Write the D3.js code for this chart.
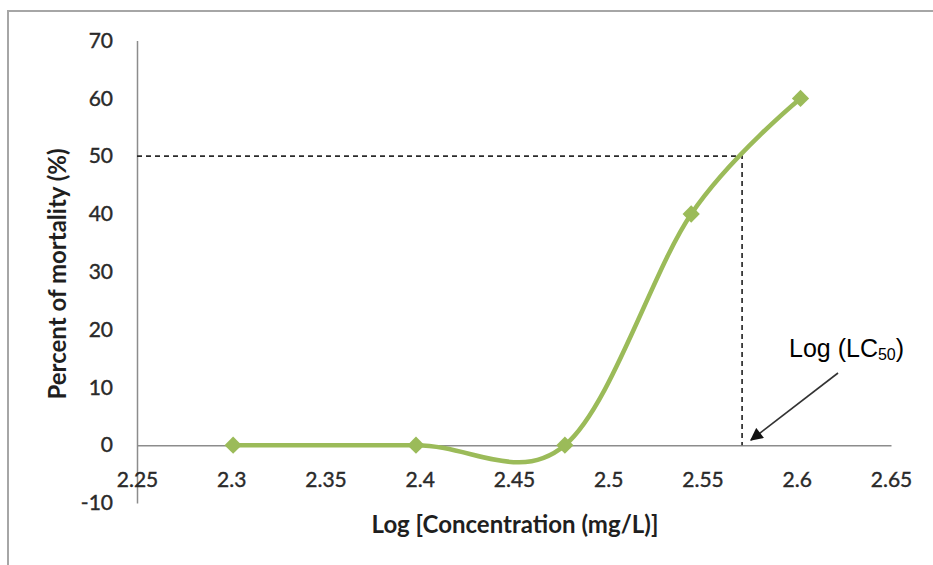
<!DOCTYPE html>
<html><head><meta charset="utf-8">
<script src="https://cdn.jsdelivr.net/npm/d3@7"></script>
<style>body{margin:0;background:#fff}svg{display:block}</style>
</head><body>
<svg id="c" width="933" height="565"></svg>
<script>
const xValues = [2.301, 2.398, 2.477, 2.544, 2.602];
const mortality = [0, 0, 0, 40, 60];
const xTicks = [2.25, 2.3, 2.35, 2.4, 2.45, 2.5, 2.55, 2.6, 2.65];
const yTicks = [-10, 0, 10, 20, 30, 40, 50, 60, 70];
const logLC50 = 2.571;
const lcLevel = 50;

const svg = d3.select("#c");
const x = d3.scaleLinear().domain([2.25, 2.65]).range([137, 891]);
const y = d3.scaleLinear().domain([-10, 70]).range([503, 40.6]);

// outer frame
svg.append("rect").attr("x", 8).attr("y", 11).attr("width", 960).attr("height", 600)
  .attr("fill", "none").attr("stroke", "#a6a6a6").attr("stroke-width", 2);

const font = "Lato, 'Open Sans', sans-serif";

// y axis
const ya = svg.append("g").attr("transform", `translate(${x(2.25)},0)`)
  .call(d3.axisLeft(y).tickValues(yTicks).tickSize(0).tickPadding(24).tickFormat(d => String(d)));
ya.select(".domain").attr("stroke", "#8c8c8c").attr("stroke-width", 1.5);
ya.selectAll("text").attr("font-family", font).attr("font-size", 21).attr("fill", "#2a2a2a")
  .attr("stroke", "#2a2a2a").attr("stroke-width", 0.4);

// x axis at y=0
const xa = svg.append("g").attr("transform", `translate(0,${y(0)})`)
  .call(d3.axisBottom(x).tickValues(xTicks).tickSize(0).tickPadding(27).tickFormat(d => String(d)));
xa.select(".domain").attr("stroke", "#8c8c8c").attr("stroke-width", 1.5);
xa.selectAll("text").attr("font-family", font).attr("font-size", 21).attr("fill", "#2a2a2a")
  .attr("stroke", "#2a2a2a").attr("stroke-width", 0.4);

// axis titles
svg.append("text").attr("x", 515).attr("y", 533).attr("text-anchor", "middle")
  .attr("font-family", font).attr("font-weight", "bold").attr("font-size", 24).attr("fill", "#1f1f1f")
  .text("Log [Concentration (mg/L)]");
svg.append("text").attr("transform", "translate(66,274) rotate(-90)").attr("text-anchor", "middle")
  .attr("font-family", font).attr("font-weight", "bold").attr("font-size", 24).attr("fill", "#1f1f1f")
  .text("Percent of mortality (%)");

// dashed LC50 guides
svg.append("path")
  .attr("d", `M${x(2.25)},${y(lcLevel)}H${x(logLC50)}V${y(0)}`)
  .attr("fill", "none").attr("stroke", "#2b2b2b").attr("stroke-width", 1.7).attr("stroke-dasharray", "5,4");

// smooth line
const pts = xValues.map((v, i) => [x(v), y(mortality[i])]);
svg.append("path").datum(pts)
  .attr("d", d3.line().curve(d3.curveCardinal.tension(0)))
  .attr("fill", "none").attr("stroke", "#9bbb59").attr("stroke-width", 4.5);

// markers
svg.selectAll(".m").data(pts).enter().append("path")
  .attr("transform", d => `translate(${d[0]},${d[1]})`)
  .attr("d", d3.symbol().type(d3.symbolDiamond2).size(190))
  .attr("fill", "#9bbb59");

// annotation
const defs = svg.append("defs");
defs.append("marker").attr("id", "ah").attr("viewBox", "0 0 10 10").attr("refX", 9).attr("refY", 5)
  .attr("markerWidth", 9).attr("markerHeight", 8).attr("orient", "auto")
  .append("path").attr("d", "M0,0L10,5L0,10z").attr("fill", "#111");
svg.append("line").attr("x1", 838).attr("y1", 373).attr("x2", 751).attr("y2", 440)
  .attr("stroke", "#333").attr("stroke-width", 1.6).attr("marker-end", "url(#ah)");
const t = svg.append("text").attr("x", 789).attr("y", 357)
  .attr("font-family", "'Liberation Sans', Arial, sans-serif").attr("font-size", 25).attr("fill", "#000");
t.append("tspan").text("Log (LC");
t.append("tspan").attr("font-size", 16).attr("dy", 3).text("50");
t.append("tspan").attr("dy", -3).text(")");
</script>
</body></html>
